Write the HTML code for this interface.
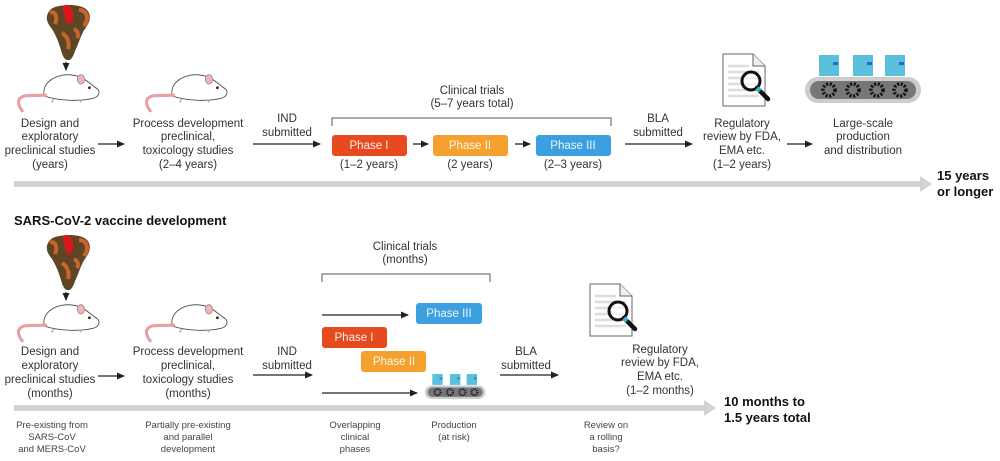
<!DOCTYPE html>
<html><head><meta charset="utf-8"><style>
html,body{margin:0;padding:0;background:#fff;}
svg{display:block;font-family:"Liberation Sans",Arial,sans-serif;}
.t{font-size:11.5px;fill:#333;text-anchor:middle;}
.s{font-size:9.5px;fill:#444;text-anchor:middle;}
.b{font-size:13px;font-weight:bold;fill:#111;}
.p{font-size:11.5px;fill:#fff;text-anchor:middle;opacity:.9}
.ln{stroke:#222;stroke-width:1.3;fill:none;}
</style></head><body>
<svg width="1000" height="461" viewBox="0 0 1000 461" xmlns="http://www.w3.org/2000/svg">
<defs>
<marker id="ah" markerWidth="8" markerHeight="8" refX="7" refY="4" orient="auto" markerUnits="userSpaceOnUse"><path d="M0,0.5 L8,4 L0,7.5z" fill="#222"/></marker>
<g id="spike">
<path d="M2,8 C6,0 16,1 22,0 C30,0 40,1 43,8 C46,16 40,22 37,27 C34,33 32,40 29,46 C27,52 25,56 21,55 C17,54 16,48 14,42 C12,35 9,29 6,24 C2,19 -1,14 2,8z" fill="#5e4526"/>
<path d="M4,8 C9,5 12,12 9,19 M33,5 C40,5 44,12 38,21 M16,28 C21,31 24,37 22,44 M28,24 C32,26 33,30 31,33" stroke="#c8652a" stroke-width="4" fill="none"/>
<path d="M19,0 C25,-1 28,5 27,13 C26,20 22,22 20,16 C18,10 15,3 19,0z" fill="#d8191a"/>
</g>
<g id="mouse">
<path d="M25,22 C22,8 38,0 52,2 C62,3 68,10 74,14 C79,17 78,22 72,24 C60,27 40,27 25,22z" fill="#fff" stroke="#555" stroke-width="0.9"/>
<ellipse cx="60" cy="6" rx="3.5" ry="4.5" fill="#f0b4b4" stroke="#777" stroke-width="0.6"/>
<circle cx="68" cy="14" r="1.3" fill="#222"/>
<path d="M26,21 C15,22 6,20 2,24 C-1,27 1,32 4,36" stroke="#e8a0a0" stroke-width="3" fill="none" stroke-linecap="round"/>
<path d="M34,25 l-2,3 M58,25 l2,3" stroke="#e8a0a0" stroke-width="1.5"/>
</g>
<g id="doc">
<path d="M0,0 H30 L42,12 V52 H0z" fill="#fff" stroke="#666" stroke-width="1"/>
<path d="M30,0 V12 H42" fill="#eee" stroke="#666" stroke-width="1"/>
<path d="M5,12 H26 M5,18 H36 M5,24 H36 M5,30 H36 M5,36 H36 M5,42 H36" stroke="#ddd" stroke-width="2.5"/>
<circle cx="28" cy="27" r="9" fill="rgba(255,255,255,.6)" stroke="#111" stroke-width="3"/>
<path d="M34,34 L45,45" stroke="#111" stroke-width="4.5" stroke-linecap="round"/>
<path d="M34,34 L37,37" stroke="#3ab0d0" stroke-width="4.5"/>
</g>
<g id="conv">
<rect x="0" y="22" width="116" height="26" rx="13" fill="#ccc"/>
<rect x="5" y="26" width="106" height="18" rx="9" fill="#777"/>
<rect x="14" y="0" width="20" height="21" fill="#5bc0dc"/><rect x="28" y="7" width="5" height="3" fill="#1a6fd0"/>
<rect x="48" y="0" width="20" height="21" fill="#5bc0dc"/><rect x="62" y="7" width="5" height="3" fill="#1a6fd0"/>
<rect x="80" y="0" width="20" height="21" fill="#5bc0dc"/><rect x="94" y="7" width="5" height="3" fill="#1a6fd0"/>
<g fill="none" stroke="#111" stroke-width="3.5" stroke-dasharray="2 1.6">
<circle cx="24" cy="35" r="6"/><circle cx="48" cy="35" r="6"/><circle cx="72" cy="35" r="6"/><circle cx="95" cy="35" r="6"/></g>
</g>
</defs>

<!-- TOP -->
<use href="#spike" x="46" y="5"/>
<line x1="66" y1="62" x2="66" y2="70" class="ln" marker-end="url(#ah)"/>
<g transform="translate(18,73) scale(1.05)"><use href="#mouse"/></g>
<g transform="translate(146,73) scale(1.05)"><use href="#mouse"/></g>
<text class="t"><tspan x="50" y="127">Design and</tspan><tspan x="50" y="140">exploratory</tspan><tspan x="50" y="154">preclinical studies</tspan><tspan x="50" y="168">(years)</tspan></text>
<line x1="98" y1="144" x2="124" y2="144" class="ln" marker-end="url(#ah)"/>
<text class="t"><tspan x="188" y="127">Process development</tspan><tspan x="188" y="140">preclinical,</tspan><tspan x="188" y="154">toxicology studies</tspan><tspan x="188" y="168">(2–4 years)</tspan></text>
<text class="t"><tspan x="287" y="122">IND</tspan><tspan x="287" y="136">submitted</tspan></text>
<line x1="253" y1="144" x2="320" y2="144" class="ln" marker-end="url(#ah)"/>
<text class="t"><tspan x="472" y="94">Clinical trials</tspan><tspan x="472" y="107">(5–7 years total)</tspan></text>
<path d="M332,126 V118 H611 V126" stroke="#555" stroke-width="1" fill="none"/>
<rect x="332" y="135" width="75" height="21" rx="3" fill="#e84a20"/><text class="p" x="369" y="149">Phase I</text>
<rect x="433" y="135" width="75" height="21" rx="3" fill="#f5a12f"/><text class="p" x="470" y="149">Phase II</text>
<rect x="536" y="135" width="75" height="21" rx="3" fill="#3b9fe0"/><text class="p" x="573" y="149">Phase III</text>
<text class="t"><tspan x="369" y="168">(1–2 years)</tspan><tspan x="470" y="168">(2 years)</tspan><tspan x="573" y="168">(2–3 years)</tspan></text>
<line x1="413" y1="144" x2="428" y2="144" class="ln" marker-end="url(#ah)"/>
<line x1="515" y1="144" x2="530" y2="144" class="ln" marker-end="url(#ah)"/>
<text class="t"><tspan x="658" y="122">BLA</tspan><tspan x="658" y="136">submitted</tspan></text>
<line x1="625" y1="144" x2="692" y2="144" class="ln" marker-end="url(#ah)"/>
<use href="#doc" x="723" y="54"/>
<text class="t"><tspan x="742" y="127">Regulatory</tspan><tspan x="742" y="140">review by FDA,</tspan><tspan x="742" y="154">EMA etc.</tspan><tspan x="742" y="168">(1–2 years)</tspan></text>
<line x1="787" y1="144" x2="812" y2="144" class="ln" marker-end="url(#ah)"/>
<use href="#conv" x="805" y="55"/>
<text class="t"><tspan x="863" y="127">Large-scale</tspan><tspan x="863" y="140">production</tspan><tspan x="863" y="154">and distribution</tspan></text>
<rect x="14" y="181" width="908" height="6" fill="#d3d3d3"/>
<path d="M920,176 L932,184 L920,192z" fill="#d3d3d3"/>
<text class="b"><tspan x="937" y="180">15 years</tspan><tspan x="937" y="196">or longer</tspan></text>

<text class="b" x="14" y="225">SARS-CoV-2 vaccine development</text>

<!-- BOTTOM -->
<use href="#spike" x="46" y="235"/>
<line x1="66" y1="292" x2="66" y2="300" class="ln" marker-end="url(#ah)"/>
<g transform="translate(18,303) scale(1.05)"><use href="#mouse"/></g>
<g transform="translate(146,303) scale(1.05)"><use href="#mouse"/></g>
<text class="t"><tspan x="50" y="355">Design and</tspan><tspan x="50" y="369">exploratory</tspan><tspan x="50" y="383">preclinical studies</tspan><tspan x="50" y="397">(months)</tspan></text>
<line x1="98" y1="376" x2="124" y2="376" class="ln" marker-end="url(#ah)"/>
<text class="t"><tspan x="188" y="355">Process development</tspan><tspan x="188" y="369">preclinical,</tspan><tspan x="188" y="383">toxicology studies</tspan><tspan x="188" y="397">(months)</tspan></text>
<text class="t"><tspan x="287" y="355">IND</tspan><tspan x="287" y="369">submitted</tspan></text>
<line x1="253" y1="375" x2="312" y2="375" class="ln" marker-end="url(#ah)"/>
<text class="t"><tspan x="405" y="250">Clinical trials</tspan><tspan x="405" y="263">(months)</tspan></text>
<path d="M322,282 V274 H490 V282" stroke="#555" stroke-width="1" fill="none"/>
<line x1="322" y1="315" x2="408" y2="315" class="ln" marker-end="url(#ah)"/>
<rect x="416" y="303" width="66" height="21" rx="3" fill="#3b9fe0"/><text class="p" x="449" y="317">Phase III</text>
<rect x="322" y="327" width="65" height="21" rx="3" fill="#e84a20"/><text class="p" x="354" y="341">Phase I</text>
<rect x="361" y="351" width="65" height="21" rx="3" fill="#f5a12f"/><text class="p" x="394" y="365">Phase II</text>
<line x1="322" y1="393" x2="417" y2="393" class="ln" marker-end="url(#ah)"/>
<g transform="translate(425,374) scale(0.52)"><use href="#conv"/></g>
<text class="t"><tspan x="526" y="355">BLA</tspan><tspan x="526" y="369">submitted</tspan></text>
<line x1="500" y1="375" x2="558" y2="375" class="ln" marker-end="url(#ah)"/>
<use href="#doc" x="590" y="284"/>
<text class="t"><tspan x="660" y="353">Regulatory</tspan><tspan x="660" y="366">review by FDA,</tspan><tspan x="660" y="380">EMA etc.</tspan><tspan x="660" y="394">(1–2 months)</tspan></text>
<rect x="14" y="405" width="692" height="6" fill="#d3d3d3"/>
<path d="M704,400 L716,408 L704,416z" fill="#d3d3d3"/>
<text class="b"><tspan x="724" y="406">10 months to</tspan><tspan x="724" y="422">1.5 years total</tspan></text>
<text class="s"><tspan x="52" y="428">Pre-existing from</tspan><tspan x="52" y="440">SARS-CoV</tspan><tspan x="52" y="452">and MERS-CoV</tspan></text>
<text class="s"><tspan x="188" y="428">Partially pre-existing</tspan><tspan x="188" y="440">and parallel</tspan><tspan x="188" y="452">development</tspan></text>
<text class="s"><tspan x="355" y="428">Overlapping</tspan><tspan x="355" y="440">clinical</tspan><tspan x="355" y="452">phases</tspan></text>
<text class="s"><tspan x="454" y="428">Production</tspan><tspan x="454" y="440">(at risk)</tspan></text>
<text class="s"><tspan x="606" y="428">Review on</tspan><tspan x="606" y="440">a rolling</tspan><tspan x="606" y="452">basis?</tspan></text>
</svg>
</body></html>
